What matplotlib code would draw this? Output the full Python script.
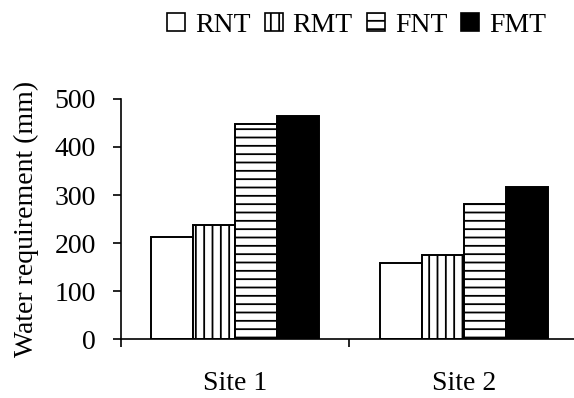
import matplotlib
matplotlib.use("Agg")
import matplotlib.pyplot as plt
import numpy as np
from matplotlib.patches import Patch

# Data
sites = ["Site 1", "Site 2"]
treatments = ["RNT", "RMT", "FNT", "FMT"]
rnt = [213, 158]
rmt = [238, 176]
fnt = [448, 282]
fmt = [464, 316]
y_ticks = [0, 100, 200, 300, 400, 500]

plt.rcParams['font.family'] = ['Liberation Serif', 'DejaVu Serif']
plt.rcParams['hatch.linewidth'] = 1.3

fig = plt.figure(figsize=(5.74, 3.98), dpi=100)
ax = fig.add_axes([0.2108, 0.147, 0.796, 0.605])

styles = [
    dict(facecolor="white", hatch=None),
    dict(facecolor="white", hatch="||"),
    dict(facecolor="white", hatch="--"),
    dict(facecolor="black", hatch=None),
]
series = [rnt, rmt, fnt, fmt]
x = np.arange(len(sites))
w = 0.184
for i, (vals, st) in enumerate(zip(series, styles)):
    ax.bar(x + (i - 1.5) * w, vals, width=w, edgecolor="black", linewidth=1.4,
           label=treatments[i], **st)

ax.set_xlim(-0.5, 1.5)
ax.set_ylim(0, 500)
ax.set_yticks(y_ticks)
ax.set_xticks(x)
ax.set_xticklabels(sites, fontsize=20)
ax.set_xticks([-0.5, 0.5, 1.5], minor=True)
ax.tick_params(axis="x", which="major", length=0, pad=23)
ax.tick_params(axis="x", which="minor", length=6, direction="out", width=1.2)
ax.tick_params(axis="y", labelsize=20, length=6, width=1.2, pad=12)
ax.set_ylabel("Water requirement (mm)", fontsize=20, labelpad=11)
for s in ["top", "right"]:
    ax.spines[s].set_visible(False)
for s in ["left", "bottom"]:
    ax.spines[s].set_linewidth(1.2)

handles = [Patch(edgecolor="black", label=t, linewidth=1.2, **st)
           for t, st in zip(treatments, styles)]
fig.legend(handles=handles, loc="upper right", bbox_to_anchor=(0.99, 1.024), ncol=4,
           frameon=False, fontsize=20, handlelength=0.65, handleheight=0.65,
           handletextpad=0.36, columnspacing=0.5, borderpad=0.3)

fig.savefig("out.png", dpi=100)
